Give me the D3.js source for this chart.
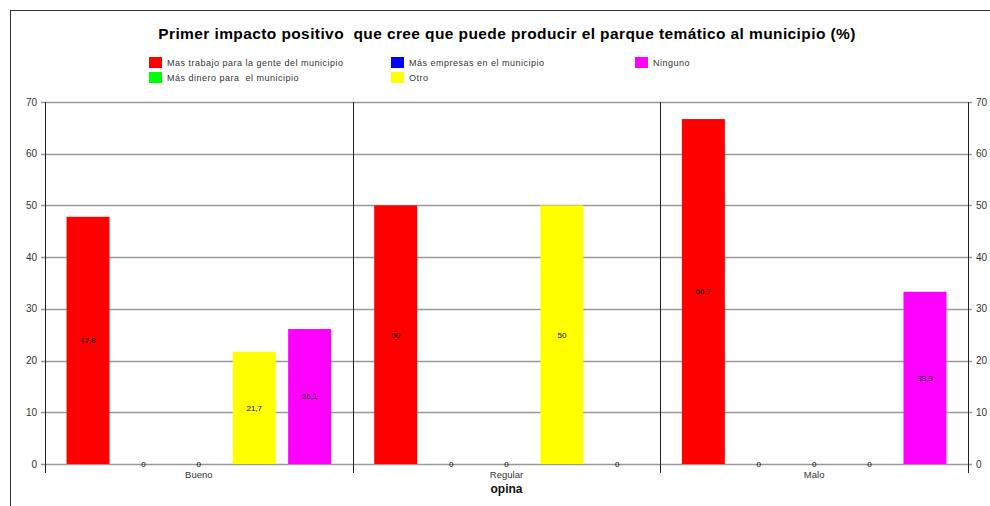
<!DOCTYPE html>
<html><head><meta charset="utf-8">
<script src="https://cdn.jsdelivr.net/npm/d3@7"></script>
<style>body{margin:0;background:#fff}svg{display:block;font-family:Arial,"Liberation Sans",sans-serif}text{white-space:pre}</style>
</head><body>
<svg id="c" width="990" height="506"></svg>
<script>
const title = "Primer impacto positivo  que cree que puede producir el parque temático al municipio (%)";
const categories = ["Bueno", "Regular", "Malo"];
const seriesNames = ["Mas trabajo para la gente del municipio", "Más dinero para  el municipio", "Más empresas en el municipio", "Otro", "Ninguno"];
const seriesColors = ["#FF0000", "#00FF00", "#0000FF", "#FFFF00", "#FF00FF"];
const masTrabajo = [47.8, 50, 66.7];
const masDinero = [0, 0, 0];
const masEmpresas = [0, 0, 0];
const otro = [21.7, 50, 0];
const ninguno = [26.1, 0, 33.3];
const seriesValues = [masTrabajo, masDinero, masEmpresas, otro, ninguno];
const yTicks = [0, 10, 20, 30, 40, 50, 60, 70];
const xAxisTitle = "opina";

const svg = d3.select("#c");
const L = 45, R = 968, T = 102, B = 464;

// outer frame
svg.append("rect").attr("x", 10.5).attr("y", 10.5).attr("width", 1100).attr("height", 700)
  .attr("fill", "none").attr("stroke", "#333").attr("stroke-width", 1);

const y = d3.scaleLinear().domain([0, 70]).range([B, T]);
const x0 = d3.scaleBand().domain(categories).range([L, R]).padding(0);
const x1 = d3.scaleBand().domain(seriesNames).range([0, x0.bandwidth()]).paddingInner(0.224).paddingOuter(0.389);

// gridlines
svg.append("g").selectAll("line").data(yTicks).join("line")
  .attr("x1", L - 4).attr("x2", R + 4)
  .attr("y1", d => Math.round(y(d)) + 0.5).attr("y2", d => Math.round(y(d)) + 0.5)
  .attr("stroke", "#999").attr("stroke-width", 1.5);

// tick labels
svg.append("g").selectAll("text").data(yTicks).join("text")
  .attr("x", L - 8).attr("y", d => y(d)).attr("dy", "0.35em").attr("text-anchor", "end")
  .attr("font-size", 10).attr("fill", "#333").text(d => d);
svg.append("g").selectAll("text").data(yTicks).join("text")
  .attr("x", R + 8).attr("y", d => y(d)).attr("dy", "0.35em").attr("text-anchor", "start")
  .attr("font-size", 10).attr("fill", "#333").text(d => d);

// bars
const data = [];
categories.forEach((c, ci) => seriesNames.forEach((s, si) => data.push({c, s, si, v: seriesValues[si][ci]})));
svg.append("g").selectAll("rect").data(data.filter(d => d.v > 0)).join("rect")
  .attr("x", d => x0(d.c) + x1(d.s)).attr("width", x1.bandwidth())
  .attr("y", d => y(d.v)).attr("height", d => y(0) - y(d.v))
  .attr("fill", d => seriesColors[d.si]);

// axes & separators
const vlines = [L, x0("Regular"), x0("Malo"), R];
svg.append("g").selectAll("line").data(vlines).join("line")
  .attr("x1", d => Math.round(d) + 0.5).attr("x2", d => Math.round(d) + 0.5)
  .attr("y1", T).attr("y2", B + 9).attr("stroke", "#222").attr("stroke-width", 1);

// value labels
svg.append("g").selectAll("text").data(data).join("text")
  .attr("x", d => x0(d.c) + x1(d.s) + x1.bandwidth() / 2)
  .attr("y", d => y(d.v / 2)).attr("dy", "0.35em").attr("text-anchor", "middle")
  .attr("font-size", 8).attr("fill", "#000")
  .text(d => String(d.v).replace(".", ","));

// category labels
svg.append("g").selectAll("text").data(categories).join("text")
  .attr("x", d => x0(d) + x0.bandwidth() / 2).attr("y", B + 14).attr("text-anchor", "middle")
  .attr("font-size", 9.5).attr("fill", "#333").text(d => d);

svg.append("text").attr("x", (L + R) / 2).attr("y", 493).attr("text-anchor", "middle")
  .attr("font-size", 12).attr("font-weight", "bold").attr("fill", "#111").text(xAxisTitle);

// title
svg.append("text").attr("x", 507).attr("y", 39).attr("text-anchor", "middle")
  .attr("font-size", 15.5).attr("letter-spacing", 0.4).attr("font-weight", "bold").attr("fill", "#000").text(title);

// legend (column-first, 2 rows)
const legCols = [149, 391, 635];
const leg = svg.append("g").selectAll("g").data(seriesNames).join("g")
  .attr("transform", (d, i) => `translate(${legCols[Math.floor(i / 2)]},${57 + (i % 2) * 15})`);
leg.append("rect").attr("width", 13).attr("height", 11).attr("fill", (d, i) => seriesColors[i]);
leg.append("text").attr("x", 18).attr("y", 5.5).attr("dy", "0.35em")
  .attr("font-size", 9).attr("letter-spacing", 0.5).attr("fill", "#333").text(d => d);
</script>
</body></html>
